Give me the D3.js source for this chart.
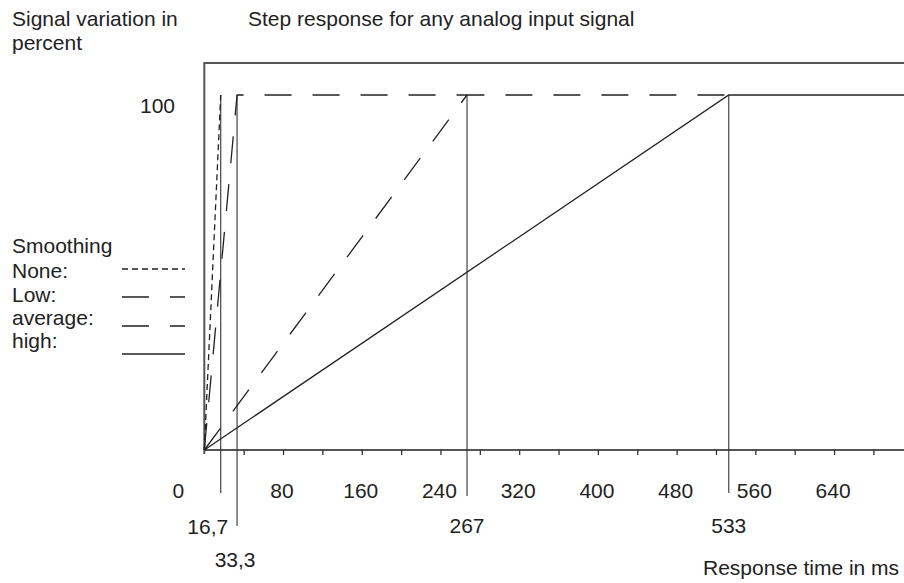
<!DOCTYPE html>
<html>
<head>
<meta charset="utf-8">
<script src="https://cdn.jsdelivr.net/npm/d3@7"></script>
<style>
  html, body { margin: 0; padding: 0; background: #fff; }
  svg { display: block; }
  text { font-family: "Liberation Sans", Arial, sans-serif; fill: #222; }
</style>
</head>
<body>
<svg id="chart" width="904" height="583"></svg>
<script>
// ---- data ----
const seriesNames = ["None:", "Low:", "average:", "high:"];
const riseTimes = [16.7, 33.3, 267, 533];          // ms to reach 100 %
const holdUntil = [16.7, 267, 533, 720];           // visible end of the 100 % plateau per curve
const markerLabels = ["16,7", "33,3", "267", "533"];
const xTickValues = [0, 40, 80, 120, 160, 200, 240, 280, 320, 360, 400, 440, 480, 520, 560, 600, 640, 680];
const xLabelValues = [0, 80, 160, 240, 320, 400, 480, 560, 640];
const yLabelValues = [100];
const fullScale = 100;

// ---- styles ----
const dashes = ["6,4", "27,21", "27,21", null];
const legendY = [269, 297, 326, 354];
const legendTextY = [278, 302, 325, 348];
const markerBottom = [493, 526, 496, 493];
const markerLabelY = [534, 567, 533, 533];
const markerLabelDx = [-13, -2, 0, 0];

const svg = d3.select("#chart");
svg.append("rect").attr("width", 904).attr("height", 583).attr("fill", "#fff");

const x = d3.scaleLinear().domain([0, 700]).range([204.3, 893.1]);
const y = d3.scaleLinear().domain([0, fullScale]).range([450, 95]);

const FS = 21;

// titles
svg.append("text").attr("x", 12).attr("y", 26).attr("font-size", FS).text("Signal variation in");
svg.append("text").attr("x", 12).attr("y", 50).attr("font-size", FS).text("percent");
svg.append("text").attr("x", 248).attr("y", 26).attr("font-size", FS).text("Step response for any analog input signal");
svg.append("text").attr("x", 703).attr("y", 575).attr("font-size", FS).text("Response time in ms");

// frame (left + top)
svg.append("path")
  .attr("d", `M${x(0)},454 L${x(0)},63 L904,63`)
  .attr("fill", "none").attr("stroke", "#555").attr("stroke-width", 2);

// x axis
const axis = d3.axisBottom(x).tickValues(xTickValues).tickSize(5).tickSizeOuter(0).tickFormat("");
const gx = svg.append("g").attr("transform", `translate(0,${y(0)})`).call(axis);
gx.select(".domain").attr("d", `M${x(0)},0H904`).attr("stroke", "#555").attr("stroke-width", 2);
gx.selectAll(".tick line").attr("stroke", "#333").attr("stroke-width", 1.3);
gx.selectAll(".tick").filter(d => d === 0).remove();

// x labels
svg.append("g").selectAll("text").data(xLabelValues).join("text")
  .attr("x", d => d === 0 ? x(d) - 26 : x(d) - 1)
  .attr("y", 498)
  .attr("text-anchor", "middle")
  .attr("font-size", FS)
  .text(d => d);

// y labels
svg.append("g").selectAll("text").data(yLabelValues).join("text")
  .attr("x", 175).attr("y", d => y(d) + 18)
  .attr("text-anchor", "end").attr("font-size", FS)
  .text(d => d);

// marker verticals
svg.append("g").selectAll("line").data(riseTimes).join("line")
  .attr("x1", d => x(d)).attr("x2", d => x(d))
  .attr("y1", y(fullScale)).attr("y2", (d, i) => markerBottom[i])
  .attr("stroke", "#333").attr("stroke-width", 1.1);

svg.append("g").selectAll("text").data(riseTimes).join("text")
  .attr("x", (d, i) => x(d) + markerLabelDx[i])
  .attr("y", (d, i) => markerLabelY[i])
  .attr("text-anchor", "middle").attr("font-size", FS)
  .text((d, i) => markerLabels[i]);

// step responses
const line = d3.line().x(d => x(d[0])).y(d => y(d[1]));
const seriesData = riseTimes.map((t, i) => [[0, 0], [t, fullScale], [holdUntil[i], fullScale]]);
svg.append("g").selectAll("path").data(seriesData).join("path")
  .attr("d", line)
  .attr("fill", "none")
  .attr("stroke", "#222")
  .attr("stroke-width", 1.3)
  .attr("stroke-dasharray", (d, i) => dashes[i]);

// legend
svg.append("text").attr("x", 12).attr("y", 253).attr("font-size", FS).text("Smoothing");
const lg = svg.append("g").selectAll("g").data(seriesNames).join("g");
lg.append("text").attr("x", 12).attr("y", (d, i) => legendTextY[i])
  .attr("font-size", FS).text(d => d);
lg.append("line")
  .attr("x1", 122).attr("x2", 185)
  .attr("y1", (d, i) => legendY[i]).attr("y2", (d, i) => legendY[i])
  .attr("stroke", "#222").attr("stroke-width", 1.3)
  .attr("stroke-dasharray", (d, i) => dashes[i]);
</script>
</body>
</html>
